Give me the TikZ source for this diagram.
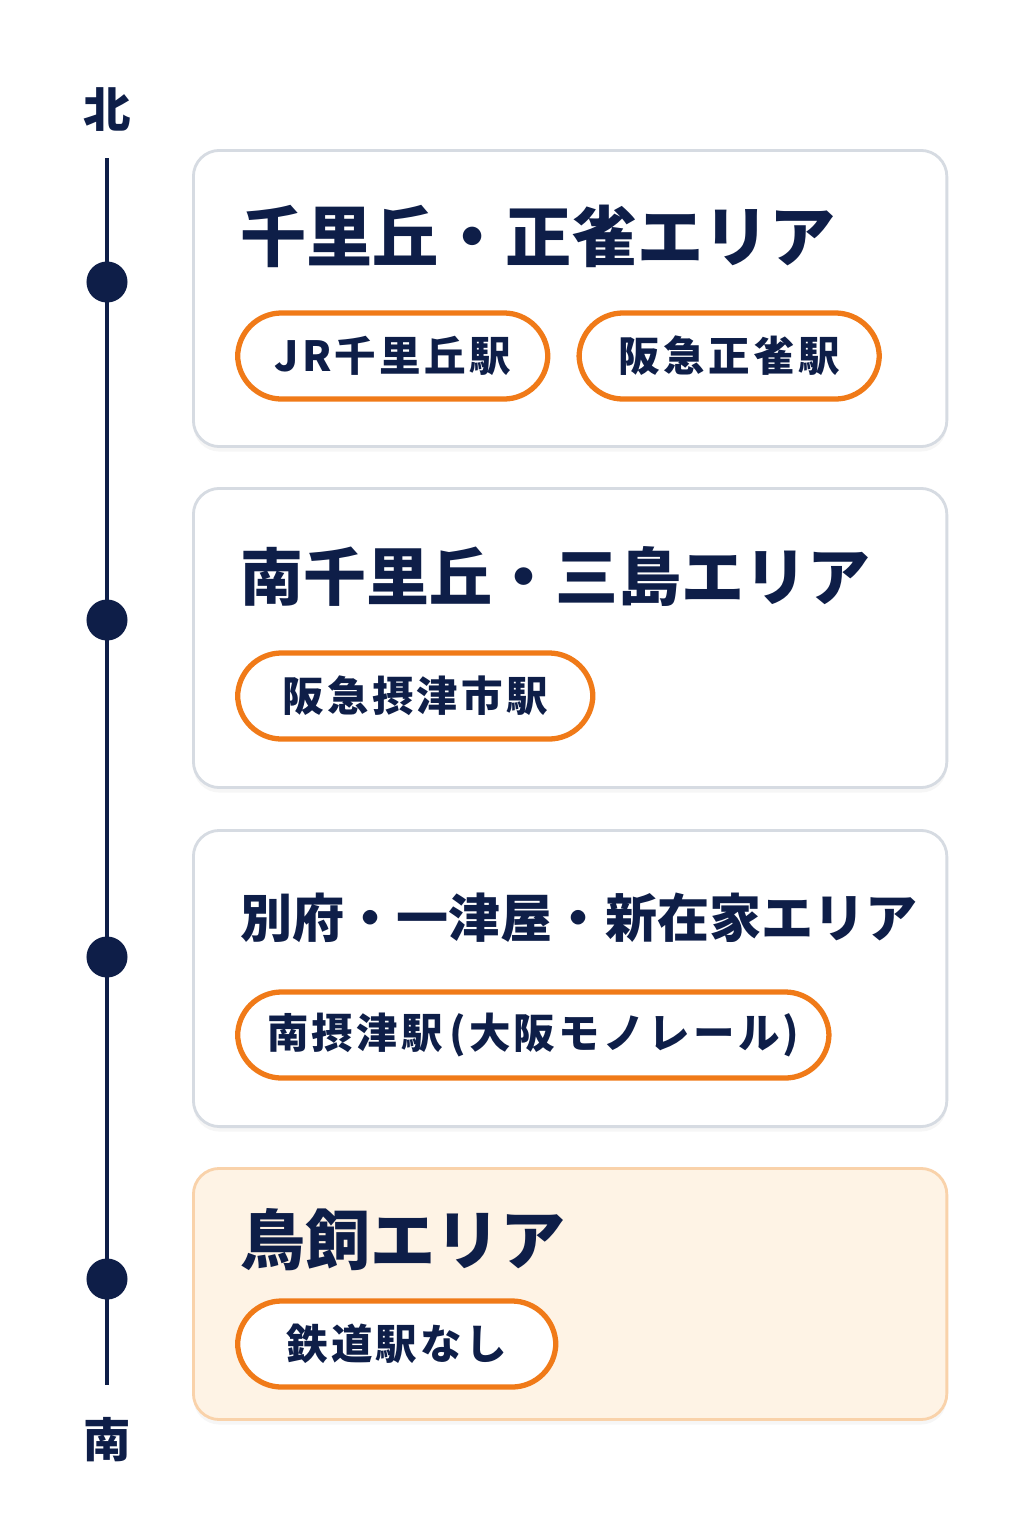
\documentclass[tikz,border=0pt]{standalone}
\usepackage{fontspec}
\setmainfont{Noto Sans CJK JP}
\usepackage{tikz}
\usetikzlibrary{positioning}
\usetikzlibrary{shadows}

\definecolor{navy}{RGB}{14,30,72}
\definecolor{chiporange}{RGB}{240,122,24}
\definecolor{cardline}{RGB}{214,219,226}
\definecolor{peach}{RGB}{254,243,229}
\definecolor{peachline}{RGB}{249,210,170}

\tikzset{
  card/.style={rectangle, rounded corners=0.26cm, draw=cardline, line width=0.8pt, fill=white,
    minimum width=7.53cm, anchor=north west, inner sep=0pt,
    drop shadow={opacity=0.07, shadow xshift=0pt, shadow yshift=-0.05cm}},
  areatitle/.style={anchor=west, inner sep=0pt, text=navy, font=\bfseries},
  chip/.style={rectangle, rounded corners=0.44cm, draw=chiporange, line width=1.5pt, fill=white,
    minimum height=0.86cm, inner xsep=0.2cm, inner ysep=0pt, text=navy,
    font=\fontsize{11.8}{12}\selectfont\bfseries\addfontfeatures{LetterSpace=8}},
  dot/.style={circle, fill=navy, inner sep=0pt, minimum size=0.41cm},
  compass/.style={text=navy, font=\fontsize{13.5}{14}\selectfont\bfseries, inner sep=0pt}
}

\begin{document}
\begin{tikzpicture}[x=0.01cm, y=-0.01cm]

        \useasboundingbox[fill=white] (0,0) rectangle (1024,1536);

        % Timeline north to south
        \node[compass] (north) at (107,110) {北};
        \node[compass] (south) at (107,1440) {南};
        \coordinate (ltop) at (107,158);
        \coordinate (lbot) at (107,1385);
        \draw[navy, line width=1.4pt] (ltop) -- (lbot);

        \foreach \y [count=\i] in {282,620,957,1279} {
          \node[dot] (d\i) at (107,\y) {};
        }

        % Area cards
        \node[card, minimum height=2.96cm] (c1) at (192,149) {};
        \node[card, minimum height=2.99cm] (c2) at (192,487) {};
        \node[card, minimum height=2.96cm] (c3) at (192,829) {};
        \node[card, minimum height=2.51cm, fill=peach, draw=peachline] (c4) at (192,1167) {};

        % Area titles
        \node[areatitle, font=\fontsize{18.8}{19}\selectfont\bfseries] (t1) at (240,236) {千里丘・正雀エリア};
        \node[areatitle, font=\fontsize{17.9}{18}\selectfont\bfseries] (t2) at (240,577) {南千里丘・三島エリア};
        \node[areatitle, font=\fontsize{14.8}{15}\selectfont\bfseries] (t3) at (240,918) {別府・一津屋・新在家エリア};
        \node[areatitle, font=\fontsize{18.5}{19}\selectfont\bfseries] (t4) at (240,1240) {鳥飼エリア};

        % Stations
        \node[chip, anchor=west, minimum width=3.1cm] (s11) at (235,356) {JR千里丘駅};
        \node[chip, minimum width=3.0cm, right=0.26cm of s11] (s12) {阪急正雀駅};
        \node[chip, anchor=west, minimum width=3.55cm] (s21) at (235,696) {阪急摂津市駅};
        \node[chip, anchor=west, minimum width=5.91cm] (s31) at (235,1035) {南摂津駅\kern0.15em(大阪モノレール)};
        \node[chip, anchor=west, minimum width=3.18cm] (s41) at (235,1344) {鉄道駅なし};

      \end{tikzpicture}
\end{document}
